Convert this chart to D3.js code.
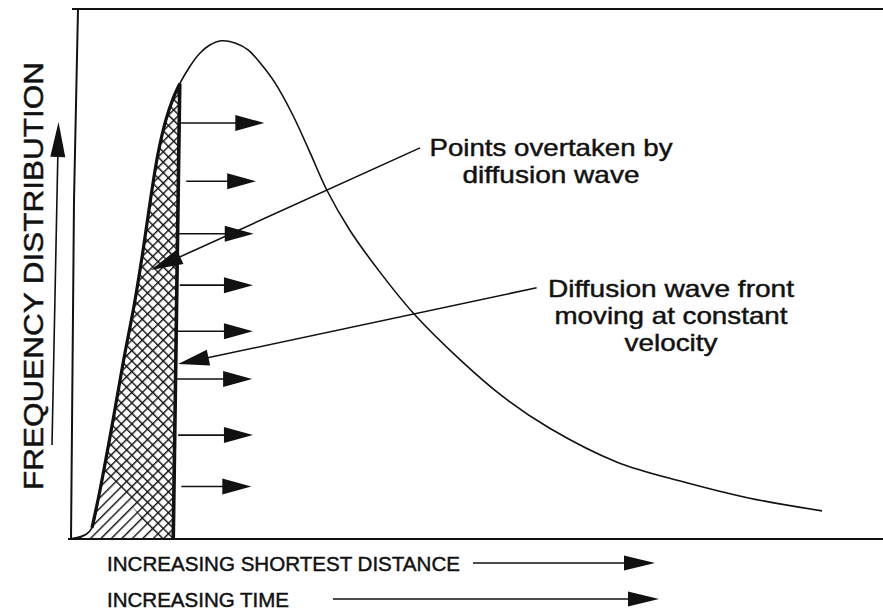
<!DOCTYPE html>
<html>
<head>
<meta charset="utf-8">
<script src="https://cdn.jsdelivr.net/npm/d3@7/dist/d3.min.js"></script>
<style>
  html, body { margin: 0; padding: 0; background: #fff; }
  svg { display: block; }
  text { font-family: "Liberation Sans", Arial, Helvetica, sans-serif; fill: #111; stroke: #111; stroke-width: 0.45; }
</style>
</head>
<body>
<svg id="chart" width="883" height="611"></svg>
<script>
// Frequency distribution of shortest distance (arbitrary units, 0-100 on both axes)
const distance = [0, 1.2, 2.0, 2.7, 3.7, 5.3, 6.6, 7.9, 8.9, 9.8,
  10.8, 11.8, 12.7, 13.5, 14.8, 16.0, 17.2, 18.6, 20.3, 21.9,
  23.4, 25.2, 27.4, 29.5, 31.6, 34.4, 38.1, 42.3, 48.0, 53.3,
  59.0, 67.3, 75.4, 83.6, 92.5];
const frequency = [0, 0.4, 0.9, 2.1, 9.3, 22.5, 33.8, 44.2, 53.6, 63.0,
  72.5, 79.1, 83.2, 85.9, 89.3, 91.7, 93.2, 94.0, 93.6, 92.3,
  89.8, 86.1, 80.0, 73.0, 65.8, 58.3, 50.4, 42.5, 33.8, 26.8,
  20.9, 14.5, 10.8, 7.7, 5.3];

// Diffusion wave front: distance where it meets the curve and where it meets the baseline
const frontTop = 13.5;
const frontBase = 12.7;

// Arrows pushing the wave front forward (level, tail distance, tip distance)
const pushLevel = [78.5, 67.5, 57.6, 47.9, 39.2, 30.2, 19.6, 9.9];
const pushTail = [13.5, 14.3, 13.3, 13.5, 13.2, 13.0, 13.3, 13.7];
const pushTip = [23.9, 22.9, 22.6, 22.5, 22.5, 22.4, 22.5, 22.3];

// Text
const yTitle = "FREQUENCY DISTRIBUTION";
const xTitles = ["INCREASING SHORTEST DISTANCE", "INCREASING TIME"];
const noteOvertaken = ["Points overtaken by", "diffusion wave"];
const noteFront = ["Diffusion wave front", "moving at constant", "velocity"];

const svg = d3.select("#chart");
const x = d3.scaleLinear().domain([0, 100]).range([70, 883]);
const y = d3.scaleLinear().domain([0, 100]).range([539, 9]);
const ink = "#111";

const pts = distance.map((d, i) => [d, frequency[i]]);

// hatch patterns
const defs = svg.append("defs");
function hatch(id, angle) {
  const p = defs.append("pattern")
    .attr("id", id)
    .attr("patternUnits", "userSpaceOnUse")
    .attr("width", 7.4).attr("height", 7.4)
    .attr("patternTransform", `rotate(${angle})`);
  p.append("rect").attr("x", 0).attr("y", 0)
    .attr("width", 1.4).attr("height", 7.4).attr("fill", ink);
}
hatch("hatchA", 45);
hatch("hatchB", -45);

// the backward diagonal only covers the upper part of the shaded area
defs.append("clipPath").attr("id", "crossClip")
  .append("path")
  .attr("d", `M${x(0)},${y(100)} L${x(100)},${y(100)} L${x(100)},${y(0)}
              L${x(10.8)},${y(0)} L${x(4.6)},${y(12)} L${x(0)},${y(12)} Z`);

const line = d3.line()
  .x(d => x(d[0])).y(d => y(d[1]))
  .curve(d3.curveCatmullRom.alpha(0.5));

// shaded area: points already overtaken by the diffusion wave
const behind = pts.filter(d => d[0] <= frontTop);
const shadedPath = line(behind) + `L${x(frontBase)},${y(0)} L${x(0)},${y(0)} Z`;

svg.append("path").attr("d", shadedPath).attr("fill", "url(#hatchA)");
svg.append("path").attr("d", shadedPath).attr("fill", "url(#hatchB)")
  .attr("clip-path", "url(#crossClip)");

// heavy left edge of the shaded area
svg.append("path")
  .attr("d", line(behind.filter(d => d[0] >= 2.7)))
  .attr("fill", "none").attr("stroke", ink).attr("stroke-width", 3.2);

// wave front
svg.append("line")
  .attr("x1", x(frontTop)).attr("y1", y(frequency[distance.indexOf(frontTop)]))
  .attr("x2", x(frontBase)).attr("y2", y(0))
  .attr("stroke", ink).attr("stroke-width", 3.6);

// full distribution curve
svg.append("path")
  .attr("d", line(pts))
  .attr("fill", "none").attr("stroke", ink).attr("stroke-width", 1.6);

// frame: slightly hand-drawn left axis, top rule and baseline
svg.append("path")
  .attr("d", `M78,9 L74,200 L71,540`)
  .attr("fill", "none").attr("stroke", ink).attr("stroke-width", 2);
svg.append("line").attr("x1", 72).attr("y1", 9).attr("x2", 883).attr("y2", 9)
  .attr("stroke", ink).attr("stroke-width", 2);
svg.append("line").attr("x1", 68).attr("y1", y(0)).attr("x2", 883).attr("y2", y(0))
  .attr("stroke", ink).attr("stroke-width", 2);

// arrow helper: shaft plus filled triangular head
function arrow(x1, y1, x2, y2, len, half, sw) {
  const dx = x2 - x1, dy = y2 - y1;
  const L = Math.hypot(dx, dy);
  const ux = dx / L, uy = dy / L;
  const bx = x2 - ux * len, by = y2 - uy * len;
  const nx = -uy, ny = ux;
  svg.append("line")
    .attr("x1", x1).attr("y1", y1).attr("x2", bx + ux * 2).attr("y2", by + uy * 2)
    .attr("stroke", ink).attr("stroke-width", sw);
  svg.append("path")
    .attr("d", `M${x2},${y2} L${bx + nx * half},${by + ny * half} L${bx - nx * half},${by - ny * half} Z`)
    .attr("fill", ink);
}

// arrows carrying the front forward
pushLevel.forEach((v, i) => {
  arrow(x(pushTail[i]), y(v), x(pushTip[i]), y(v), 29, 8, 1.6);
});

// leader arrows for the two notes
arrow(x(43.05), y(73.8), x(9.96), y(50.75), 32, 8, 1.6);
arrow(x(57.4), y(47.4), x(13.3), y(33.0), 31, 8, 1.6);

// y axis title and arrow
svg.append("text")
  .attr("transform", "translate(43,276) rotate(-90)")
  .attr("text-anchor", "middle")
  .attr("font-size", 28)
  .attr("textLength", 428).attr("lengthAdjust", "spacingAndGlyphs")
  .text(yTitle);
arrow(52, 445, 58.5, 122, 35, 7.5, 1.6);

// x axis titles with arrows
const xRows = [{ base: 571, from: 473, to: 655, w: 353 }, { base: 607, from: 333, to: 659, w: 182 }];
xTitles.forEach((t, i) => {
  const r = xRows[i];
  svg.append("text")
    .attr("x", 107).attr("y", r.base)
    .attr("font-size", 20.5)
    .attr("textLength", r.w).attr("lengthAdjust", "spacingAndGlyphs")
    .text(t);
  arrow(r.from, r.base - 8, r.to, r.base - 8, 31, 7.5, 1.5);
});

// notes
function note(lines, cx, base0, widths) {
  lines.forEach((t, i) => {
    svg.append("text")
      .attr("x", cx).attr("y", base0 + i * 26.8)
      .attr("text-anchor", "middle")
      .attr("font-size", 24)
      .attr("textLength", widths[i]).attr("lengthAdjust", "spacingAndGlyphs")
      .text(t);
  });
}
note(noteOvertaken, 551, 156, [243, 177]);
note(noteFront, 671, 297, [246, 233, 93]);
</script>
</body>
</html>
